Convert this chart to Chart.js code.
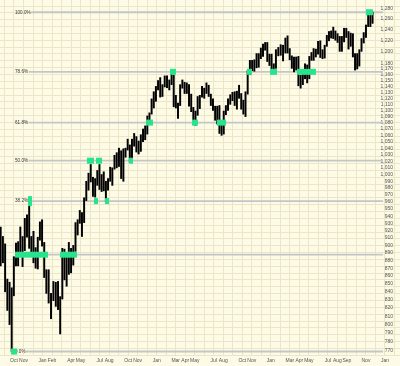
<!DOCTYPE html>
<html>
<head>
<meta charset="utf-8">
<script src="https://cdn.jsdelivr.net/npm/chart.js@4.4.1/dist/chart.umd.min.js"></script>
<style>
  html, body { margin: 0; padding: 0; background: #fdfbe6; }
  #wrap { width: 400px; height: 366px; }
</style>
</head>
<body>
<div id="wrap"><canvas id="spx" width="400" height="366"></canvas></div>
<script>
// weekly bars, one per week starting on this Monday
var firstWeek = [2002, 7, 26];
var weekHigh = [
  950, 925, 912, 902, 856, 852, 845, 885, 903, 905, 925, 912, 937, 942, 954, 912, 919, 897, 911,
  932, 935, 904, 868, 868, 838, 853, 852, 853, 834, 896, 895, 885, 904, 896, 900, 931, 935, 948, 945,
  966, 990, 1002, 1015, 996, 994, 1006, 1015, 1000, 1004, 990, 994, 1011, 1010, 1029, 1033, 1040, 1036,
  1039, 1040, 1054, 1045, 1054, 1063, 1058, 1051, 1061, 1070, 1075, 1091, 1096, 1119,
  1131, 1140, 1150, 1155, 1143, 1158, 1158, 1151, 1163, 1159, 1125, 1112, 1143, 1151, 1147, 1146, 1143,
  1127, 1105, 1099, 1123, 1125, 1140, 1137, 1146, 1142, 1127, 1119, 1107, 1107, 1108, 1080, 1099, 1108,
  1119, 1126, 1130, 1131, 1132, 1142, 1128, 1117, 1131, 1167, 1185, 1185, 1186, 1197, 1197, 1207, 1214, 1217,
  1217, 1196, 1196, 1179, 1204, 1208, 1213, 1212, 1225, 1229, 1206, 1193, 1191, 1191, 1192, 1159, 1165,
  1179, 1177, 1192, 1199, 1206, 1205, 1219, 1220, 1204, 1212, 1230, 1237, 1238, 1245, 1238, 1233, 1228,
  1228, 1243, 1243, 1237, 1234, 1233, 1197, 1197, 1204, 1224, 1235, 1249, 1268, 1269, 1273
];
var weekLow = [
  905, 873, 877, 840, 817, 800, 768.6, 835, 873, 873, 890, 872, 893, 911, 896, 886, 877, 870, 869,
  907, 899, 858, 838, 826, 807, 829, 822, 818, 789, 831, 855, 847, 862, 864, 874, 892, 914, 930, 912,
  931, 962, 977, 989, 968, 967, 984, 978, 975, 976, 960, 977, 990, 984, 1008, 1010, 1012, 994,
  990, 1026, 1037, 1018, 1024, 1043, 1034, 1031, 1035, 1050, 1053, 1062, 1084, 1094,
  1104, 1115, 1134, 1122, 1123, 1139, 1138, 1134, 1143, 1106, 1104, 1087, 1108, 1137, 1128, 1128, 1107,
  1098, 1079, 1076, 1092, 1103, 1122, 1120, 1128, 1123, 1108, 1100, 1084, 1078, 1063, 1060, 1062, 1093,
  1100, 1110, 1116, 1108, 1102, 1120, 1102, 1094, 1090, 1127, 1160, 1167, 1166, 1172, 1173, 1188, 1192, 1203,
  1183, 1176, 1166, 1163, 1171, 1193, 1194, 1184, 1198, 1198, 1186, 1171, 1165, 1168, 1141, 1137, 1143,
  1153, 1146, 1153, 1185, 1185, 1191, 1196, 1190, 1188, 1189, 1210, 1220, 1225, 1224, 1221, 1217, 1201,
  1201, 1218, 1226, 1205, 1210, 1191, 1168, 1170, 1175, 1201, 1216, 1226, 1246, 1246, 1252
];

// axis ticks
var yTicks = [1280, 1260, 1240, 1220, 1200, 1180, 1170, 1160, 1150, 1140, 1130, 1120, 1110, 1100,
  1090, 1080, 1070, 1060, 1050, 1040, 1030, 1020, 1010, 1000, 990, 980, 970, 960, 950, 940, 930,
  920, 910, 900, 890, 880, 870, 860, 850, 840, 830, 820, 810, 800, 790, 780, 770];
// months counted from Oct 2002
var labelMonths = [0, 1, 3, 4, 6, 7, 9, 10, 12, 13, 15, 17, 18, 19, 21, 22, 24, 25, 27, 29, 30, 31, 33, 34, 35, 37, 39];
var monthNames = ['Jan', 'Feb', 'Mar', 'Apr', 'May', 'Jun', 'Jul', 'Aug', 'Sep', 'Oct', 'Nov', 'Dec'];

// fibonacci retracement between the Oct 2002 low and the 2005 high
var fibLow = 768.6, fibHigh = 1272.9;
var fibRatios = [0, 0.236, 0.382, 0.5, 0.618, 0.786, 1];
var fibNames = ['0.0%', '23.6%', '38.2%', '50.0%', '61.8%', '78.6%', '100.0%'];

// touches of a level: level index, from month, to month
var touchLevel = [0, 1, 1, 2, 2, 2, 3, 3, 3, 4, 4, 4, 5, 5, 5, 5, 6];
var touchFrom = [0.19, 0.61, 5.34, 1.97, 8.91, 10.07, 8.17, 9.12, 12.59, 14.38, 19.21, 21.84, 16.9, 24.99, 27.41, 30.25, 37.5];
var touchTo = [0.82, 4.08, 7.12, 2.39, 9.33, 10.49, 8.91, 9.75, 13.01, 15.11, 19.84, 22.79, 17.53, 25.52, 28.15, 32.25, 38.24];

function monthPos(d) {
  var y = d.getFullYear(), m = d.getMonth();
  var dim = new Date(y, m + 1, 0).getDate();
  return (y - 2002) * 12 + (m - 9) + (d.getDate() - 1) / dim;
}

var bars = [];
for (var i = 0; i < weekHigh.length; i++) {
  var mid = new Date(firstWeek[0], firstWeek[1], firstWeek[2] + i * 7 + 2);
  bars.push({ x: monthPos(mid), y: [weekLow[i], weekHigh[i]] });
}
var fibValues = fibRatios.map(function (r) { return fibLow + r * (fibHigh - fibLow); });

var allMonths = [];
for (var k = -1; k <= 41; k++) allMonths.push(k);

var gridColor = '#ece6c9';

var fibPlugin = {
  id: 'fib',
  beforeDraw: function (chart) {
    var c = chart.ctx, a = chart.chartArea;
    c.save();
    c.fillStyle = '#fdfbe6';
    c.fillRect(0, 0, chart.width, chart.height);
    c.strokeStyle = gridColor;
    c.lineWidth = 1;
    c.beginPath();
    for (var y = a.top + 5.5; y < a.bottom; y += 6.85) {
      c.moveTo(a.left, Math.round(y) + 0.5);
      c.lineTo(a.right, Math.round(y) + 0.5);
    }
    c.stroke();
    c.restore();
  },
  beforeDatasetsDraw: function (chart) {
    var c = chart.ctx, ys = chart.scales.y, xs = chart.scales.x;
    c.save();
    c.font = '4.6px "Liberation Sans", Arial, sans-serif';
    c.textBaseline = 'middle';
    var xEnd = xs.getPixelForValue(39.3);
    fibValues.forEach(function (v, i) {
      var py = ys.getPixelForValue(v);
      var x0 = chart.chartArea.left + 15;
      c.fillStyle = '#333';
      c.fillText(fibNames[i], x0, py);
      var w = c.measureText(fibNames[i]).width;
      c.strokeStyle = '#c3c6c8';
      c.lineWidth = 1.8;
      c.beginPath();
      c.moveTo(x0 + w + 0.5, py);
      c.lineTo(xEnd, py);
      c.stroke();
    });
    c.restore();
  },
  afterDatasetsDraw: function (chart) {
    var c = chart.ctx, ys = chart.scales.y, xs = chart.scales.x;
    c.save();
    c.fillStyle = '#27e48c';
    for (var i = 0; i < touchLevel.length; i++) {
      var py = ys.getPixelForValue(fibValues[touchLevel[i]]);
      var x1 = xs.getPixelForValue(touchFrom[i]);
      var x2 = xs.getPixelForValue(touchTo[i]);
      var h = touchLevel[i] === 2 && touchTo[i] - touchFrom[i] < 0.5 && touchFrom[i] < 3 ? 10 : 6;
      c.fillRect(x1, py - h / 2, x2 - x1, h);
    }
    c.restore();
  }
};

new Chart(document.getElementById('spx'), {
  type: 'bar',
  data: {
    datasets: [{
      data: bars,
      backgroundColor: '#000',
      borderWidth: 0,
      barThickness: 1.3,
      grouped: false
    }]
  },
  options: {
    responsive: false,
    animation: false,
    layout: { padding: 0 },
    plugins: { legend: { display: false }, tooltip: { enabled: false } },
    scales: {
      x: {
        type: 'linear',
        min: -0.971,
        max: 41.08,
        offset: false,
        grid: { color: gridColor, drawTicks: false },
        border: { display: false },
        afterBuildTicks: function (s) { s.ticks = allMonths.map(function (v) { return { value: v }; }); },
        afterFit: function (s) { s.paddingLeft = 0; s.paddingRight = 0; },
        ticks: {
          autoSkip: false,
          maxRotation: 0,
          labelOffset: 4.75,
          padding: 2,
          color: '#555',
          font: { size: 5, family: '"Liberation Sans", Arial, sans-serif' },
          callback: function (v) {
            if (labelMonths.indexOf(v) < 0) return '';
            return monthNames[(v + 9) % 12];
          }
        }
      },
      y: {
        type: 'logarithmic',
        position: 'right',
        min: 763.5,
        max: 1296.3,
        grid: { display: false },
        border: { display: false },
        afterBuildTicks: function (s) { s.ticks = yTicks.map(function (v) { return { value: v }; }); },
        afterFit: function (s) { s.width = 0; s.paddingTop = 0; s.paddingBottom = 0; },
        ticks: {
          autoSkip: false,
          mirror: true,
          padding: -7,
          color: '#555',
          font: { size: 5, family: '"Liberation Sans", Arial, sans-serif' },
          callback: function (v) { return v.toLocaleString('en-US'); }
        }
      }
    }
  },
  plugins: [fibPlugin]
});
</script>
</body>
</html>
